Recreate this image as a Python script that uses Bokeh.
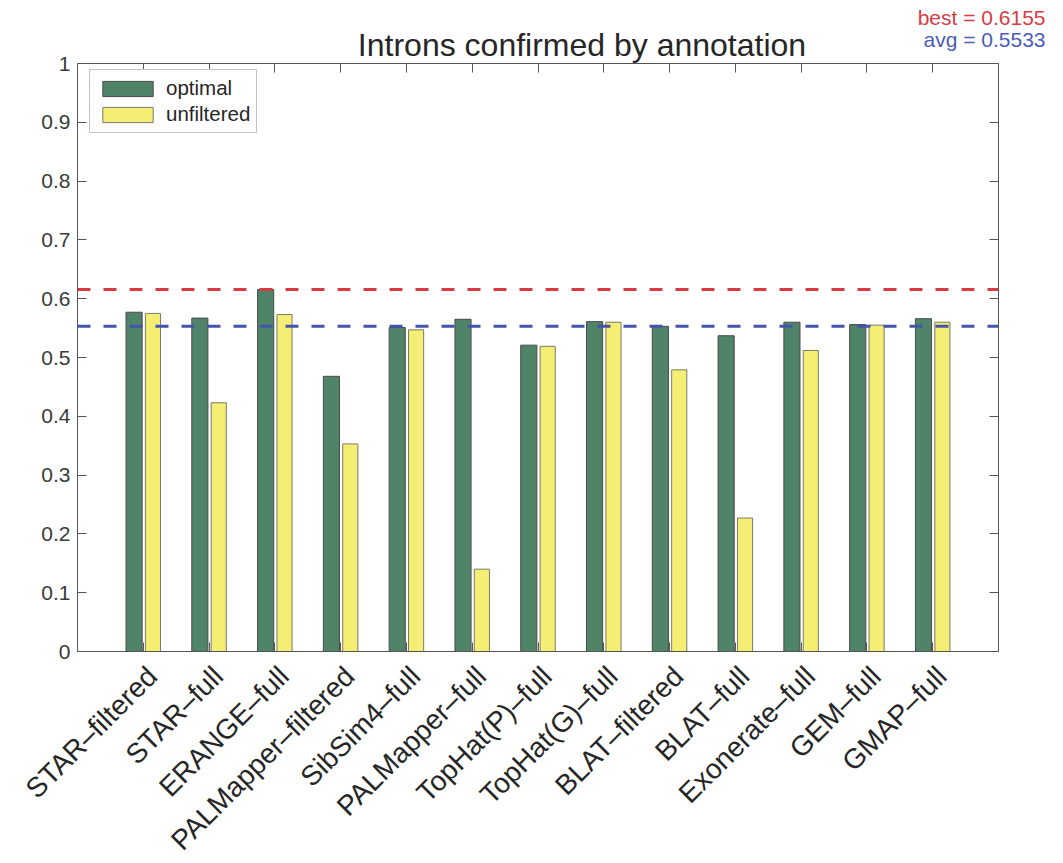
from bokeh.plotting import figure
from bokeh.models import (ColumnDataSource, FixedTicker, LinearAxis, Range1d)
from bokeh.core.properties import value
from bokeh.transform import dodge
from bokeh.embed import file_html
from bokeh.resources import INLINE

# ---- data ----
methods = ["STAR–filtered", "STAR–full", "ERANGE–full", "PALMapper–filtered",
           "SibSim4–full", "PALMapper–full", "TopHat(P)–full", "TopHat(G)–full",
           "BLAT–filtered", "BLAT–full", "Exonerate–full", "GEM–full", "GMAP–full"]
optimal = [0.577, 0.567, 0.6155, 0.468, 0.551, 0.565, 0.521, 0.561, 0.553,
           0.537, 0.560, 0.556, 0.566]
unfiltered = [0.575, 0.423, 0.573, 0.353, 0.547, 0.140, 0.519, 0.560, 0.479,
              0.227, 0.512, 0.555, 0.560]
best = 0.6155
avg = 0.5533
y_ticks = [0, 0.1, 0.2, 0.3, 0.4, 0.5, 0.6, 0.7, 0.8, 0.9, 1]
y_tick_labels = ["0", "0.1", "0.2", "0.3", "0.4", "0.5", "0.6", "0.7", "0.8", "0.9", "1"]
title_text = "Introns confirmed by annotation"

positions = list(range(1, len(methods) + 1))
src = ColumnDataSource(dict(x=positions, optimal=optimal, unfiltered=unfiltered))

# ---- layout (canvas pixels) ----
W, H = 1047, 855
BOX_L, BOX_R, BOX_T, BOX_B = 77, 998, 63, 651
X0, X1 = 0, len(methods) + 1          # axis box in data units
Y0, Y1 = 0, 1
xs = (BOX_R - BOX_L) / (X1 - X0)
ys = (BOX_B - BOX_T) / (Y1 - Y0)

def dx(px):   # canvas x pixel -> data x
    return X0 + (px - BOX_L) / xs

def dy(py):   # canvas y pixel -> data y
    return Y0 + (BOX_B - py) / ys

FONT = "Liberation Sans"
GREEN = "#4f8469"
YELLOW = "#f5ee74"
AXIS_COLOR = "#555555"

p = figure(width=W, height=H, output_backend="svg", toolbar_location=None,
           x_range=Range1d(dx(0), dx(W)), y_range=Range1d(dy(H), dy(0)),
           min_border=0, outline_line_color=None, tools="",
           x_axis_location=None, y_axis_location=None)
p.grid.visible = False

p.vbar(x=dodge("x", -0.14), top="optimal", width=0.245, source=src,
       fill_color=GREEN, line_color="#4a4a4a", line_width=1, legend_label="optimal")
p.vbar(x=dodge("x", 0.147), top="unfiltered", width=0.23, source=src,
       fill_color=YELLOW, line_color="#7a7a6a", line_width=1, legend_label="unfiltered")

p.segment(x0=[X0], x1=[X1], y0=[best], y1=[best], line_color="#d93a40",
          line_width=3, line_dash="13 13")
p.segment(x0=[X0], x1=[X1], y0=[avg], y1=[avg], line_color="#4354aa",
          line_width=3, line_dash="13 13")

xt = FixedTicker(ticks=positions)
yt = FixedTicker(ticks=y_ticks)

def box_axis(ax, loc, bounds):
    ax.fixed_location = loc
    ax.bounds = bounds
    ax.axis_line_color = AXIS_COLOR
    ax.axis_line_width = 1
    ax.major_tick_line_color = AXIS_COLOR
    ax.major_tick_in = 9
    ax.major_tick_out = 0
    ax.minor_tick_line_color = None

def hide_labels(ax):
    ax.major_label_text_font_size = "1px"
    ax.major_label_text_color = None
    ax.major_label_standoff = 0

# bottom: ticks only
xb = LinearAxis(ticker=xt)
box_axis(xb, Y0, (X0, X1))
hide_labels(xb)
p.add_layout(xb, "below")

# bottom labels, rotated and anchored slightly right of each tick as in the original
label_shift = 0.137
lab_ticks = [pos + label_shift for pos in positions]
la = LinearAxis(ticker=FixedTicker(ticks=lab_ticks), fixed_location=Y0)
la.major_label_overrides = {t: name for t, name in zip(lab_ticks, methods)}
la.major_label_orientation = 0.7853981633974483
la.major_label_text_font = FONT
la.major_label_text_font_size = "28px"
la.major_label_text_color = "#262626"
la.major_label_standoff = 14
la.axis_line_color = None
la.major_tick_line_color = None
la.minor_tick_line_color = None
p.add_layout(la, "below")

# left
yl = LinearAxis(ticker=yt)
box_axis(yl, X0, (Y0, Y1))
yl.major_label_overrides = {t: l for t, l in zip(y_ticks, y_tick_labels)}
yl.major_label_text_font = FONT
yl.major_label_text_font_size = "21px"
yl.major_label_text_color = "#3a3a3a"
yl.major_label_standoff = 7
p.add_layout(yl, "left")

# right and top: ticks only
yr = LinearAxis(ticker=yt)
box_axis(yr, X1, (Y0, Y1))
hide_labels(yr)
p.add_layout(yr, "right")
xtop = LinearAxis(ticker=xt)
box_axis(xtop, Y1, (X0, X1))
hide_labels(xtop)
p.add_layout(xtop, "above")

# title and statistics (baseline positions compensated for the renderer's offset)
p.text(x=[dx(581.5)], y=[dy(44.5)], text=[title_text], text_align="center",
       text_baseline="alphabetic", text_font=value(FONT),
       text_font_size="32px", text_color="#262626")
p.text(x=[dx(1045)], y=[dy(17)], text=["best = %.4f" % best], text_align="right",
       text_baseline="alphabetic", text_font=value(FONT),
       text_font_size="21px", text_color="#d63c44")
p.text(x=[dx(1045)], y=[dy(39)], text=["avg = %.4f" % avg], text_align="right",
       text_baseline="alphabetic", text_font=value(FONT),
       text_font_size="21px", text_color="#4b5db5")

lg = p.legend[0]
lg.location = (89, H - 133)
lg.margin = 0
lg.padding = 6
lg.spacing = 2
lg.glyph_width = 63
lg.glyph_height = 19
lg.label_height = 19
lg.label_standoff = 7
lg.label_text_font = FONT
lg.label_text_font_size = "20.5px"
lg.label_text_color = "#262626"
lg.border_line_color = "#888888"
lg.border_line_width = 1
lg.background_fill_color = "white"
lg.background_fill_alpha = 1

open("out.html", "w").write(file_html(p, INLINE))
